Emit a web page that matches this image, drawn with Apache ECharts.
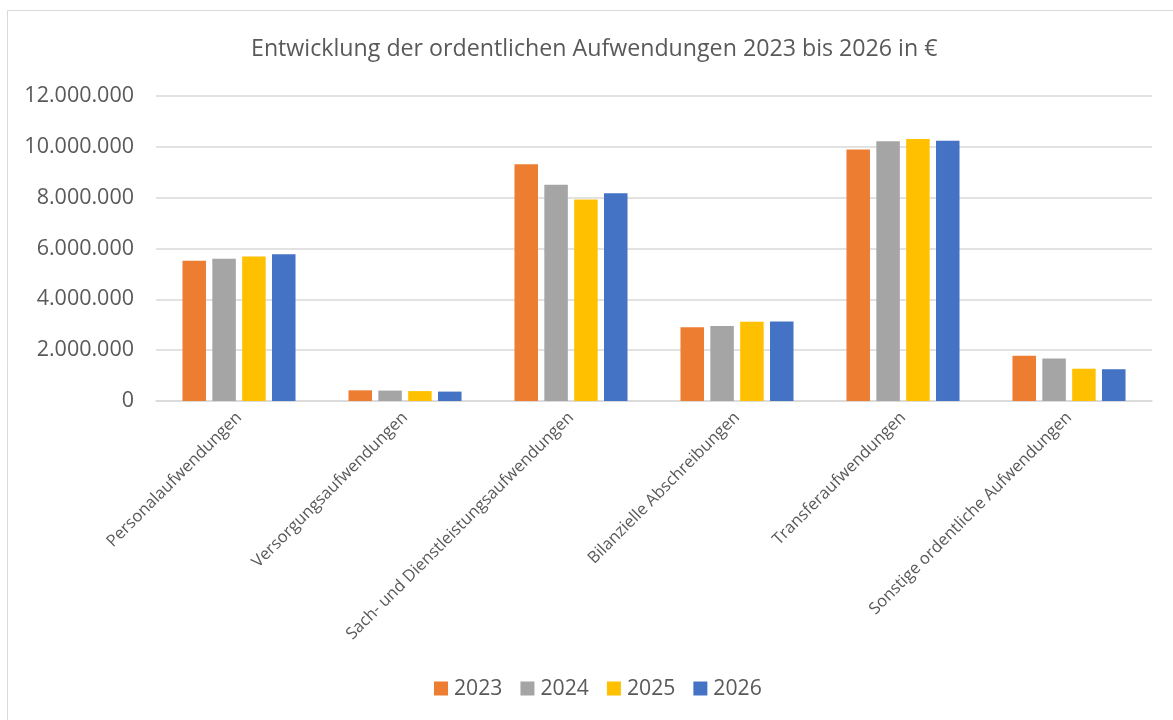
<!DOCTYPE html>
<html>
<head>
<meta charset="utf-8">
<script src="https://cdn.jsdelivr.net/npm/echarts@6/dist/echarts.min.js"></script>
<style>
html,body{margin:0;padding:0;background:#fff;}
#chart{width:1173px;height:720px;}
</style>
</head>
<body>
<div id="chart"></div>
<script>
var categories = ["Personalaufwendungen","Versorgungsaufwendungen","Sach- und Dienstleistungsaufwendungen","Bilanzielle Abschreibungen","Transferaufwendungen","Sonstige ordentliche Aufwendungen"];
var years = ["2023","2024","2025","2026"];
var values2023 = [5520000, 420000, 9310000, 2900000, 9900000, 1780000];
var values2024 = [5600000, 410000, 8510000, 2950000, 10220000, 1670000];
var values2025 = [5690000, 390000, 7930000, 3120000, 10310000, 1270000];
var values2026 = [5770000, 370000, 8170000, 3130000, 10240000, 1250000];
var yTicks = [0, 2000000, 4000000, 6000000, 8000000, 10000000, 12000000];
var colors = ["#ED7D31","#A5A5A5","#FFC000","#4472C4"];
var seriesValues = [values2023, values2024, values2025, values2026];

var FONT = "Open Sans";
var TXT = "#595959";

function fmt(v){
  return String(v).replace(/\B(?=(\d{3})+(?!\d))/g, ".");
}

var chart = echarts.init(document.getElementById('chart'), null, {renderer:'canvas'});
var option = {
  backgroundColor: '#fff',
  animation: false,
  color: colors,
  textStyle: {fontFamily: FONT},
  graphic: [{
    type: 'rect',
    shape: {x: 7.5, y: 10.5, width: 1200, height: 800},
    style: {fill: 'none', stroke: '#D9D9D9', lineWidth: 1},
    silent: true
  }],
  title: {
    text: "Entwicklung der ordentlichen Aufwendungen 2023 bis 2026 in €",
    left: 246,
    top: 33,
    textStyle: {fontFamily: FONT, fontSize: 23.2, fontWeight: 'normal', color: TXT}
  },
  legend: {
    data: years,
    left: 429,
    top: 673,
    itemWidth: 14,
    itemHeight: 14,
    itemGap: 18,
    icon: 'rect',
    textStyle: {fontFamily: FONT, fontSize: 21.2, color: TXT, padding: [0,0,0,1]}
  },
  grid: {left: 156, right: 21, top: 96, bottom: 319, containLabel: false},
  xAxis: {
    type: 'category',
    data: categories,
    axisLine: {show: true, lineStyle: {color: '#D9D9D9', width: 1.5}},
    axisTick: {show: false},
    axisLabel: {rotate: 45, fontFamily: FONT, fontSize: 16.5, color: TXT, margin: 14, interval: 0}
  },
  yAxis: {
    type: 'value',
    min: yTicks[0],
    max: yTicks[yTicks.length-1],
    interval: yTicks[1]-yTicks[0],
    axisLine: {show: false},
    axisTick: {show: false},
    splitLine: {lineStyle: {color: '#D9D9D9', width: 1.5}},
    axisLabel: {fontFamily: FONT, fontSize: 21.5, color: TXT, margin: 22, formatter: function(v){return fmt(v);}}
  },
  series: years.map(function(y, i){
    return {
      name: y,
      type: 'bar',
      data: seriesValues[i],
      barWidth: 23.5,
      barGap: '27%',
      itemStyle: {color: colors[i]}
    };
  })
};
chart.setOption(option);
</script>
</body>
</html>
